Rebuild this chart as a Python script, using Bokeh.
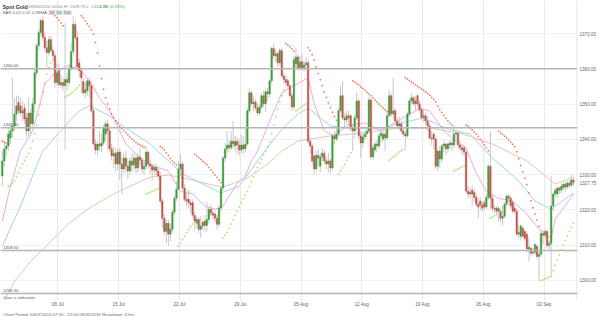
from bokeh.plotting import figure
from bokeh.models import Range1d, FixedTicker, Span, Label, ColumnDataSource, PrintfTickFormatter, Title
from bokeh.embed import file_html
from bokeh.resources import INLINE

# ---------------- data ----------------
open_ = [1329.6,1333.9,1337.3,1338.1,1340.4,1342.4,1343.8,1347.2,1350.5,1349.5,
1347.5,1348.9,1346.1,1342.4,1347.5,1344.4,1350.1,1358.9,1366.6,1370.3,
1373.7,1368.9,1366.0,1364.6,1368.3,1365.2,1363.7,1356.1,1359.5,1355.5,
1356.1,1355.2,1357.0,1356.1,1360.0,1364.9,1372.6,1368.9,1361.7,1359.5,
1356.4,1353.2,1353.8,1356.6,1355.2,1348.1,1338.7,1337.0,1338.7,1338.1,
1339.0,1341.5,1344.4,1342.4,1337.3,1335.3,1336.1,1333.0,1336.4,1333.0,
1331.6,1334.7,1332.4,1331.0,1333.9,1332.7,1334.7,1331.9,1335.0,1334.1,
1331.6,1332.4,1336.4,1333.0,1332.4,1331.3,1332.1,1331.0,1329.6,1322.5,
1317.6,1313.9,1316.2,1313.1,1314.5,1319.3,1323.3,1325.9,1331.6,1333.0,
1326.2,1323.0,1323.0,1322.0,1322.0,1318.5,1316.2,1317.3,1314.5,1315.4,
1316.8,1315.6,1317.3,1320.2,1319.1,1318.8,1317.6,1315.9,1320.5,1326.2,
1334.7,1337.3,1338.4,1337.6,1339.5,1338.1,1339.5,1338.4,1337.0,1338.4,
1337.3,1338.7,1348.1,1353.2,1350.1,1350.6,1348.9,1347.5,1349.2,1352.4,
1350.1,1353.5,1352.9,1356.6,1365.8,1363.7,1364.3,1361.7,1365.2,1358.0,
1357.0,1356.6,1355.2,1352.4,1349.2,1361.4,1363.4,1360.3,1362.0,1360.3,
1361.1,1361.7,1339.5,1338.1,1335.3,1331.6,1335.5,1332.4,1335.0,1336.1,
1333.9,1333.0,1333.9,1331.9,1341.0,1340.1,1341.5,1348.1,1352.4,1346.1,
1345.5,1346.7,1346.7,1343.2,1342.4,1346.1,1350.9,1341.0,1339.0,1340.7,
1341.5,1342.4,1351.2,1335.0,1337.0,1338.7,1338.1,1341.0,1340.1,1341.5,
1340.4,1346.7,1352.4,1347.2,1348.1,1345.2,1343.8,1344.4,1342.4,1341.5,
1341.0,1347.2,1350.9,1351.8,1350.1,1352.4,1350.1,1348.4,1346.1,1346.7,
1345.2,1343.8,1340.4,1341.5,1340.1,1332.4,1336.7,1334.4,1338.1,1338.7,
1337.3,1338.4,1339.0,1338.4,1341.5,1341.8,1338.4,1337.6,1337.6,1336.4,
1325.3,1324.5,1325.6,1325.0,1323.6,1321.6,1322.5,1321.4,1322.0,1320.8,
1323.6,1332.4,1323.3,1320.5,1320.5,1319.6,1319.6,1317.6,1318.2,1321.6,
1323.9,1323.3,1322.2,1320.5,1319.6,1313.1,1312.5,1314.8,1313.9,1313.1,
1308.9,1309.1,1307.7,1308.0,1309.7,1306.8,1307.4,1313.3,1312.8,1313.9,
1309.9,1310.5,1321.1,1324.5,1324.5,1326.2,1325.6,1326.2,1327.3,1326.5,
1327.6,1327.0,1328.5]
high = [1336.7,1339.0,1338.8,1343.2,1343.8,1357.5,1351.8,1352.4,1352.4,1351.8,
1350.9,1350.1,1347.5,1351.8,1348.5,1351.8,1360.3,1367.4,1371.4,1374.3,
1375.1,1370.3,1368.0,1369.4,1369.4,1366.3,1364.6,1361.4,1361.7,1358.3,
1357.5,1373.0,1358.9,1361.4,1367.4,1375.1,1373.7,1370.9,1362.9,1360.6,
1357.5,1356.1,1357.5,1357.5,1356.1,1348.9,1340.1,1339.5,1342.4,1341.5,
1344.1,1345.2,1345.5,1343.2,1338.7,1338.1,1337.6,1337.3,1337.6,1335.3,
1336.1,1336.7,1334.4,1335.0,1335.8,1336.1,1335.5,1336.1,1337.5,1335.0,
1333.9,1338.0,1336.7,1334.4,1333.3,1333.0,1333.0,1332.1,1330.7,1323.3,
1318.8,1317.0,1317.3,1316.2,1320.2,1324.2,1328.2,1333.9,1335.8,1333.6,
1327.3,1325.3,1325.9,1323.0,1323.0,1319.4,1318.2,1317.9,1318.2,1317.0,
1318.5,1322.2,1320.8,1321.6,1320.2,1319.6,1318.5,1321.4,1326.7,1335.3,
1339.0,1342.4,1339.8,1342.4,1345.2,1341.0,1340.7,1340.1,1341.5,1341.0,
1343.2,1349.0,1354.6,1353.8,1352.1,1351.5,1350.1,1350.1,1353.2,1353.8,
1354.4,1354.6,1357.2,1366.3,1367.2,1365.5,1364.9,1366.0,1365.8,1358.9,
1358.3,1357.5,1355.8,1353.2,1363.7,1366.0,1364.0,1363.7,1364.3,1362.3,
1363.2,1362.6,1340.7,1339.0,1336.1,1336.7,1337.3,1336.1,1337.6,1337.0,
1335.0,1336.1,1334.7,1341.5,1342.4,1343.0,1348.9,1355.2,1356.6,1347.5,
1348.1,1348.1,1347.2,1344.4,1347.0,1353.2,1351.5,1342.4,1341.8,1342.4,
1343.2,1352.0,1351.8,1338.4,1339.5,1339.8,1341.8,1342.9,1342.4,1342.4,
1347.5,1354.1,1353.2,1357.5,1348.9,1346.1,1346.4,1345.2,1343.2,1342.4,
1347.8,1351.5,1353.2,1352.4,1352.4,1352.9,1351.2,1349.2,1348.7,1347.5,
1346.7,1344.7,1342.4,1342.0,1340.7,1337.3,1338.1,1338.7,1339.8,1339.0,
1339.2,1339.8,1340.1,1344.1,1342.4,1342.1,1339.5,1338.7,1338.4,1337.0,
1326.7,1326.2,1326.7,1326.2,1324.5,1323.3,1323.6,1322.5,1322.8,1324.5,
1333.0,1342.4,1324.2,1321.4,1321.1,1321.1,1320.2,1321.1,1322.2,1324.5,
1324.5,1323.9,1322.8,1321.4,1320.2,1315.9,1315.9,1315.6,1314.2,1313.9,
1311.9,1309.7,1309.1,1310.8,1310.2,1308.3,1314.5,1314.2,1314.5,1314.5,
1311.4,1329.6,1325.0,1326.2,1326.7,1326.7,1327.3,1327.9,1327.9,1328.2,
1328.5,1329.9,1329.3]
low = [1326.7,1332.4,1335.3,1336.7,1338.7,1340.4,1342.4,1345.2,1347.2,1346.7,
1345.2,1344.4,1340.4,1341.0,1341.5,1343.8,1347.5,1358.0,1365.2,1369.4,
1368.0,1365.2,1360.3,1363.7,1364.6,1362.8,1354.6,1355.2,1355.0,1354.6,
1353.8,1337.0,1353.8,1355.2,1359.5,1364.0,1368.0,1360.0,1357.5,1353.2,
1352.4,1351.8,1352.4,1351.8,1347.5,1338.1,1335.8,1335.3,1336.7,1336.4,
1338.4,1339.5,1337.0,1336.4,1333.9,1331.9,1330.7,1331.3,1328.5,1324.5,
1330.2,1330.7,1328.8,1329.9,1330.7,1331.3,1330.4,1330.7,1332.7,1330.4,
1329.9,1331.3,1331.6,1330.2,1328.2,1329.9,1329.6,1328.5,1321.6,1314.8,
1312.8,1310.5,1309.7,1311.1,1313.6,1318.5,1322.5,1325.3,1329.6,1325.6,
1322.2,1321.1,1320.5,1319.1,1317.6,1313.9,1314.8,1313.4,1312.0,1314.2,
1313.6,1313.9,1316.2,1318.2,1317.3,1316.5,1314.5,1315.1,1319.6,1325.3,
1333.6,1336.1,1336.4,1337.0,1337.3,1336.7,1335.8,1335.3,1336.1,1335.8,
1336.4,1338.1,1347.5,1349.5,1348.1,1348.1,1346.7,1346.9,1348.4,1349.2,
1347.8,1350.9,1351.8,1355.8,1362.9,1362.0,1360.6,1361.1,1357.5,1355.8,
1354.9,1354.4,1351.8,1348.1,1348.4,1360.3,1359.5,1359.7,1359.5,1359.2,
1359.7,1338.7,1335.8,1333.0,1330.2,1331.0,1332.4,1330.7,1333.9,1333.0,
1331.6,1330.7,1330.4,1331.3,1338.7,1339.5,1340.7,1347.5,1345.5,1343.2,
1344.4,1343.8,1342.4,1336.7,1340.4,1345.5,1340.1,1334.7,1337.6,1339.8,
1340.4,1341.8,1334.3,1334.1,1336.1,1336.4,1337.3,1339.2,1339.2,1336.7,
1339.8,1346.1,1346.4,1345.8,1344.4,1342.9,1342.4,1341.5,1340.7,1337.2,
1340.4,1346.4,1350.1,1349.5,1348.1,1349.2,1347.5,1345.5,1345.0,1344.1,
1342.4,1339.8,1338.4,1337.3,1331.6,1331.0,1331.9,1333.3,1336.4,1335.5,
1336.1,1337.3,1336.7,1337.6,1339.8,1337.6,1336.7,1335.5,1335.3,1324.7,
1323.3,1323.3,1321.1,1322.5,1320.8,1317.6,1319.9,1319.6,1319.9,1320.2,
1322.8,1320.2,1319.4,1319.1,1318.8,1316.8,1316.5,1315.6,1317.6,1321.1,
1321.9,1320.5,1319.1,1318.8,1312.5,1311.9,1311.4,1312.0,1311.1,1308.0,
1305.4,1306.8,1307.1,1307.4,1306.0,1300.0,1306.8,1310.2,1311.9,1309.1,
1308.9,1301.5,1319.6,1323.6,1323.3,1324.5,1324.7,1325.6,1325.0,1325.9,
1326.2,1326.5,1327.0]
close = [1333.9,1337.3,1338.1,1341.5,1342.4,1343.8,1347.2,1349.5,1348.1,1347.5,
1348.1,1345.8,1342.4,1347.5,1344.4,1350.1,1358.9,1366.6,1370.3,1373.7,
1368.9,1366.0,1364.6,1368.3,1365.2,1363.7,1356.1,1358.9,1355.5,1356.1,
1355.2,1357.0,1356.1,1360.0,1364.9,1372.6,1368.9,1360.6,1359.5,1357.5,
1353.2,1354.1,1356.6,1355.2,1348.1,1338.7,1337.0,1338.7,1338.1,1339.0,
1343.2,1344.4,1342.4,1337.3,1335.3,1336.1,1333.0,1336.4,1333.0,1331.6,
1334.7,1332.4,1331.0,1333.9,1332.7,1334.7,1331.9,1335.0,1334.1,1331.6,
1332.4,1336.4,1333.0,1332.4,1331.3,1332.1,1331.0,1329.6,1322.5,1317.6,
1313.9,1316.2,1313.1,1314.5,1319.3,1323.3,1325.9,1331.6,1333.0,1326.2,
1323.0,1322.5,1322.0,1321.4,1318.5,1316.8,1317.3,1314.5,1315.4,1316.5,
1315.6,1317.3,1320.2,1319.1,1318.5,1317.6,1315.9,1320.5,1326.2,1334.7,
1337.3,1338.4,1337.6,1339.5,1338.7,1339.5,1338.4,1337.0,1338.4,1337.3,
1338.7,1348.1,1353.2,1350.1,1350.6,1348.9,1347.5,1349.2,1352.4,1350.1,
1353.5,1352.9,1356.6,1365.8,1363.7,1364.3,1361.7,1365.2,1358.0,1357.0,
1356.1,1355.2,1352.4,1349.2,1362.6,1363.4,1360.3,1362.0,1360.3,1361.1,
1361.7,1339.5,1338.1,1333.9,1331.6,1335.5,1334.7,1335.0,1336.1,1333.9,
1333.0,1333.9,1331.9,1341.0,1340.1,1341.5,1348.1,1352.4,1346.1,1345.5,
1346.7,1346.1,1343.2,1342.4,1346.1,1350.9,1341.0,1339.0,1340.7,1341.5,
1342.4,1351.2,1335.0,1337.6,1338.7,1338.1,1341.0,1341.8,1341.5,1340.4,
1346.7,1352.4,1347.2,1348.1,1345.2,1343.8,1344.4,1342.4,1341.5,1341.0,
1347.2,1350.9,1351.8,1350.1,1350.9,1350.1,1348.4,1346.1,1346.7,1345.2,
1343.8,1340.4,1340.1,1340.1,1332.4,1336.7,1334.4,1338.1,1338.7,1337.3,
1338.7,1339.0,1338.4,1341.5,1341.8,1338.4,1337.6,1337.0,1336.4,1325.3,
1324.5,1325.0,1324.5,1323.6,1321.6,1320.8,1321.4,1320.5,1320.8,1323.6,
1332.4,1323.3,1320.5,1320.2,1319.6,1320.5,1317.6,1318.2,1321.6,1323.9,
1323.3,1321.1,1319.6,1319.6,1313.1,1313.6,1315.4,1312.5,1311.9,1308.9,
1309.4,1307.7,1308.0,1310.2,1306.8,1307.4,1313.3,1312.8,1313.9,1309.9,
1310.5,1321.1,1324.5,1325.6,1326.2,1325.6,1326.7,1327.3,1326.5,1327.6,
1327.0,1328.5,1327.75]
sar = [1339.5,1339.2,1339.0,
1326.7,1327.0,1327.6,1328.3,1329.3,1330.6,1331.9,1333.0,1334.0,1335.0,1336.0,1337.5,
1339.5,1341.5,1344.0,1347.0,1350.0,1353.5,1356.0,1358.5,1360.3,1361.7,1362.5,
1375.1,1374.5,1373.8,1373.0,1372.2,
1352.0,1352.3,1352.6,1353.0,1353.4,1354.0,1354.6,1355.3,
1375.1,1374.5,1373.6,1372.8,1372.0,1371.0,1369.8,1367.5,1364.5,1360.8,1357.2,1354.2,
1351.8,1350.0,1348.6,1347.3,1346.2,1345.3,1344.5,1343.8,1343.1,1342.5,1341.9,1341.3,
1340.7,1340.1,1339.6,1339.1,1338.7,1338.4,1338.1,1337.8,
1324.5,1324.7,1325.0,1325.2,1325.5,1325.8,1326.1,
1338.0,1337.6,1337.0,1336.2,1335.4,1334.6,1333.9,1333.3,1332.7,
1309.7,1310.6,1311.6,1312.6,1313.5,1314.4,1315.2,1316.0,
1335.8,1335.3,1334.8,1334.3,1333.8,1333.3,1332.8,1332.0,1331.3,1330.6,1329.9,1329.2,
1328.5,1327.8,
1312.0,1312.8,1313.6,1314.8,1316.0,1317.2,1318.4,1319.6,1320.8,1322.0,1323.1,1324.2,
1325.2,1326.6,1328.0,1329.4,1330.7,1332.0,1333.2,1334.4,1335.6,1336.7,1338.0,1339.3,
1341.5,1344.0,1346.4,1348.6,1350.6,1352.4,1354.0,
1367.2,1366.8,1366.3,1365.6,1365.0,
1348.1,1348.5,1348.9,1349.3,1349.7,1350.1,
1366.0,1365.2,1364.0,1362.5,1360.6,1358.7,1356.9,1355.2,1353.5,1351.9,1350.4,1349.0,
1347.7,1346.5,1345.4,
1330.2,1331.0,1331.9,1332.9,1334.0,1335.1,1336.2,
1356.6,1356.2,1355.8,1355.4,1354.9,1354.4,1353.9,1353.4,1352.9,1352.4,1351.8,1351.2,
1350.6,1350.0,1349.4,1348.9,1348.4,1347.9,
1334.1,1334.5,1334.9,1335.4,1335.9,1336.4,1336.8,1337.2,
1357.5,1357.1,1356.7,1356.3,1355.9,1355.5,1355.1,1354.7,1354.3,1353.9,1353.5,1353.0,
1352.5,1351.9,1351.3,1350.6,1349.5,1348.5,1347.6,1346.8,1346.0,1345.3,1344.6,1344.0,
1331.0,1331.3,1331.6,1331.9,1332.2,1332.5,
1344.1,1343.7,1343.2,1342.7,1342.1,1341.5,1340.8,1340.0,1339.2,1338.4,1337.6,1336.8,
1317.6,1318.0,1318.4,1318.7,
1342.4,1341.9,1341.4,1340.9,1340.4,1339.8,1339.2,1338.6,1337.9,1336.5,1334.5,1332.6,
1330.8,1329.0,1327.2,1324.8,1322.6,1320.6,1318.8,1317.1,1315.3,
1300.0,1300.2,1300.5,1300.7,1301.0,1301.2,1302.8,1304.3,1305.8,1307.2,1308.6,1310.0,
1311.3,1312.6,1313.9,1315.1,1316.3]

ema20_bar = [0,4,9,15,19,21,24,26,32,38,43,48,53,58,61,68,75,82,88,94,100,105,109,113,116,
             120,123,126,131,138,143,146,151,154,159,164,170,179,187,195,206,211,218,224,229,
             234,239,245,252,259,265,271,273,277,282]
ema20_val = [1316.8,1326.7,1336.7,1342.4,1350.9,1355.8,1357.5,1358.9,1360.9,1360.0,1356.6,1351.8,
             1348.1,1342.4,1338.7,1334.7,1332.4,1331.0,1325.3,1324.5,1321.1,1320.2,1321.1,1324.8,
             1327.6,1329.6,1333.9,1336.7,1343.8,1353.2,1354.9,1355.8,1357.5,1350.1,1342.4,1341.0,
             1343.8,1344.7,1342.4,1345.2,1348.7,1348.1,1342.4,1339.5,1337.6,1330.4,1325.3,1323.3,
             1322.5,1318.8,1314.5,1312.0,1317.4,1320.5,1324.5]
ema50_bar = [0,9,20,32,38,43,53,61,73,89,108,117,126,138,146,151,162,170,187,195,208,219,231,
             242,255,263,271,282]
ema50_val = [1309.7,1321.1,1336.7,1344.4,1348.1,1349.5,1346.7,1343.2,1338.7,1330.2,1324.8,1326.7,
             1333.9,1342.9,1347.2,1348.9,1343.8,1343.2,1342.9,1344.4,1346.1,1343.2,1341.5,1334.7,
             1328.2,1322.5,1320.2,1324.8]
ema100_bar = [0,6,14,24,33,43,53,63,73,82,92,102,109,121,131,138,146,162,179,195,211,226,242,
              259,273,282]
ema100_val = [1293.2,1299.7,1305.4,1311.1,1316.2,1320.5,1323.9,1326.7,1329.3,1329.9,1328.7,1327.3,
              1326.5,1329.0,1333.0,1336.7,1339.5,1341.0,1341.8,1343.2,1343.2,1341.8,1338.7,1333.9,
              1327.3,1329.3]

levels = [1360.0, 1343.3, 1308.5, 1296.3]
level_labels = ["1360.00", "1343.30", "1308.50", "1296.30"]
y_ticks = [1300, 1310, 1320, 1330, 1340, 1350, 1360, 1370]
week_pos = [27.5, 57.5, 87.5, 117.5, 147.5, 177.5, 207.5, 237.5, 267.5]
week_labels = ["08 Jul", "15 Jul", "22 Jul", "29 Jul", "05 Aug", "12 Aug", "19 Aug", "26 Aug", "02 Sep"]
last_price = 1327.75

# ---------------- figure ----------------
FONT = "Liberation Sans"
GREEN, RED = "#3b9e3b", "#c3554d"

n = len(close)
idx = list(range(n))
cols = [GREEN if c >= o else RED for o, c in zip(open_, close)]
src = ColumnDataSource(dict(x=idx, o=open_, h=high, l=low, c=close, col=cols))

p = figure(width=599, height=316, output_backend="svg", toolbar_location=None,
           x_range=Range1d(-0.88, 284.0), y_range=Range1d(1294.3, 1379.39),
           y_axis_location="right", min_border_left=0, min_border_right=17,
           min_border_top=0, min_border_bottom=0, background_fill_color="white",
           border_fill_color="white")
p.outline_line_color = None

p.xgrid.ticker = FixedTicker(ticks=week_pos)
p.xgrid.grid_line_color = "#e9e9e9"
p.ygrid.ticker = FixedTicker(ticks=y_ticks)
p.ygrid.grid_line_color = "#f1f1f1"

p.xaxis.ticker = FixedTicker(ticks=week_pos)
p.xaxis.major_label_overrides = {pos: lab for pos, lab in zip(week_pos, week_labels)}
p.yaxis.ticker = FixedTicker(ticks=y_ticks + [last_price])
p.yaxis.formatter = PrintfTickFormatter(format="%.2f")
for ax in (p.xaxis[0], p.yaxis[0]):
    ax.axis_line_color = None
    ax.major_tick_line_color = None
    ax.minor_tick_line_color = None
    ax.major_tick_out = 0
    ax.major_tick_in = 0
    ax.major_label_standoff = 2
    ax.major_label_text_font_size = "4.6px"
    ax.major_label_text_color = "#666666"
    ax.major_label_text_font = FONT
p.xaxis.major_label_standoff = 1

# footer line below the axis
p.add_layout(Title(text="Chart Period: 04/07/2016 07:00 - 12:00 09/05/2016     Resolution: 4 hrs",
                   text_font=FONT, text_font_size="4.3px", text_color="#666666",
                   text_font_style="normal", align="left", offset=3, standoff=0), "below")

# right frame border
p.add_layout(Span(location=283.8, dimension="height", line_color="#dddddd", line_width=1))

# level lines
for lv, lb in zip(levels, level_labels):
    p.add_layout(Span(location=lv, dimension="width", line_color="#b5b5b5", line_width=1.5))
    p.add_layout(Label(x=0.5, y=lv, y_offset=1.5, text=lb, text_font=FONT,
                       text_font_size="4.2px", text_color="#555555", text_baseline="bottom"))

# moving averages
p.line(ema100_bar, ema100_val, line_color="#dccab3", line_width=1)
p.line(ema50_bar, ema50_val, line_color="#a3d4e8", line_width=1)
p.line(ema20_bar, ema20_val, line_color="#ecaad8", line_width=1)

# candles
p.segment(x0="x", y0="l", x1="x", y1="h", source=src, line_color="#c8c8c8", line_width=1)
p.vbar(x="x", width=0.78, top="o", bottom="c", source=src, fill_color="col",
       line_color="col", line_width=0.4)

# parabolic SAR
sar_col = ["#f4704e" if s > c else "#a6e063" for s, c in zip(sar, close)]
p.scatter(idx, sar, marker="square", size=1.5, fill_color=sar_col, line_color=None)

# header
def lab(x, y, text, size="4.4px", color="#777777", style="normal", bg=None):
    kw = dict(x=x, y=y, x_units="screen", y_units="screen", text=text, text_font=FONT,
              text_font_size=size, text_color=color, text_font_style=style,
              text_baseline="middle")
    if bg:
        kw.update(background_fill_color=bg, padding=1)
    p.add_layout(Label(**kw))

TOP = 299
lab(2, TOP - 5, "Spot Gold", size="5.3px", color="#333333", style="bold")
lab(28, TOP - 5, "09/05/2016 00:00    H: 1329.75    L: 1324.79", color="#888888")
lab(99, TOP - 5, "1.66 (0.13%)", color="#33aa33")
lab(2, TOP - 11, "SAR  0.02  0.02  0.2", size="4.3px", color="#666666")
lab(37, TOP - 11, "EMA", size="4.3px", color="#666666")
lab(48, TOP - 11, "20", size="4.3px", color="#666666", bg="#f6d2ea")
lab(55, TOP - 11, "50", size="4.3px", color="#666666", bg="#cde9f3")
lab(62, TOP - 11, "100", size="4.3px", color="#666666", bg="#efe4d6")

lab(3, 3, "Data is indicative", size="4.2px", color="#666666")

open("out.html", "w").write(file_html(p, INLINE))
